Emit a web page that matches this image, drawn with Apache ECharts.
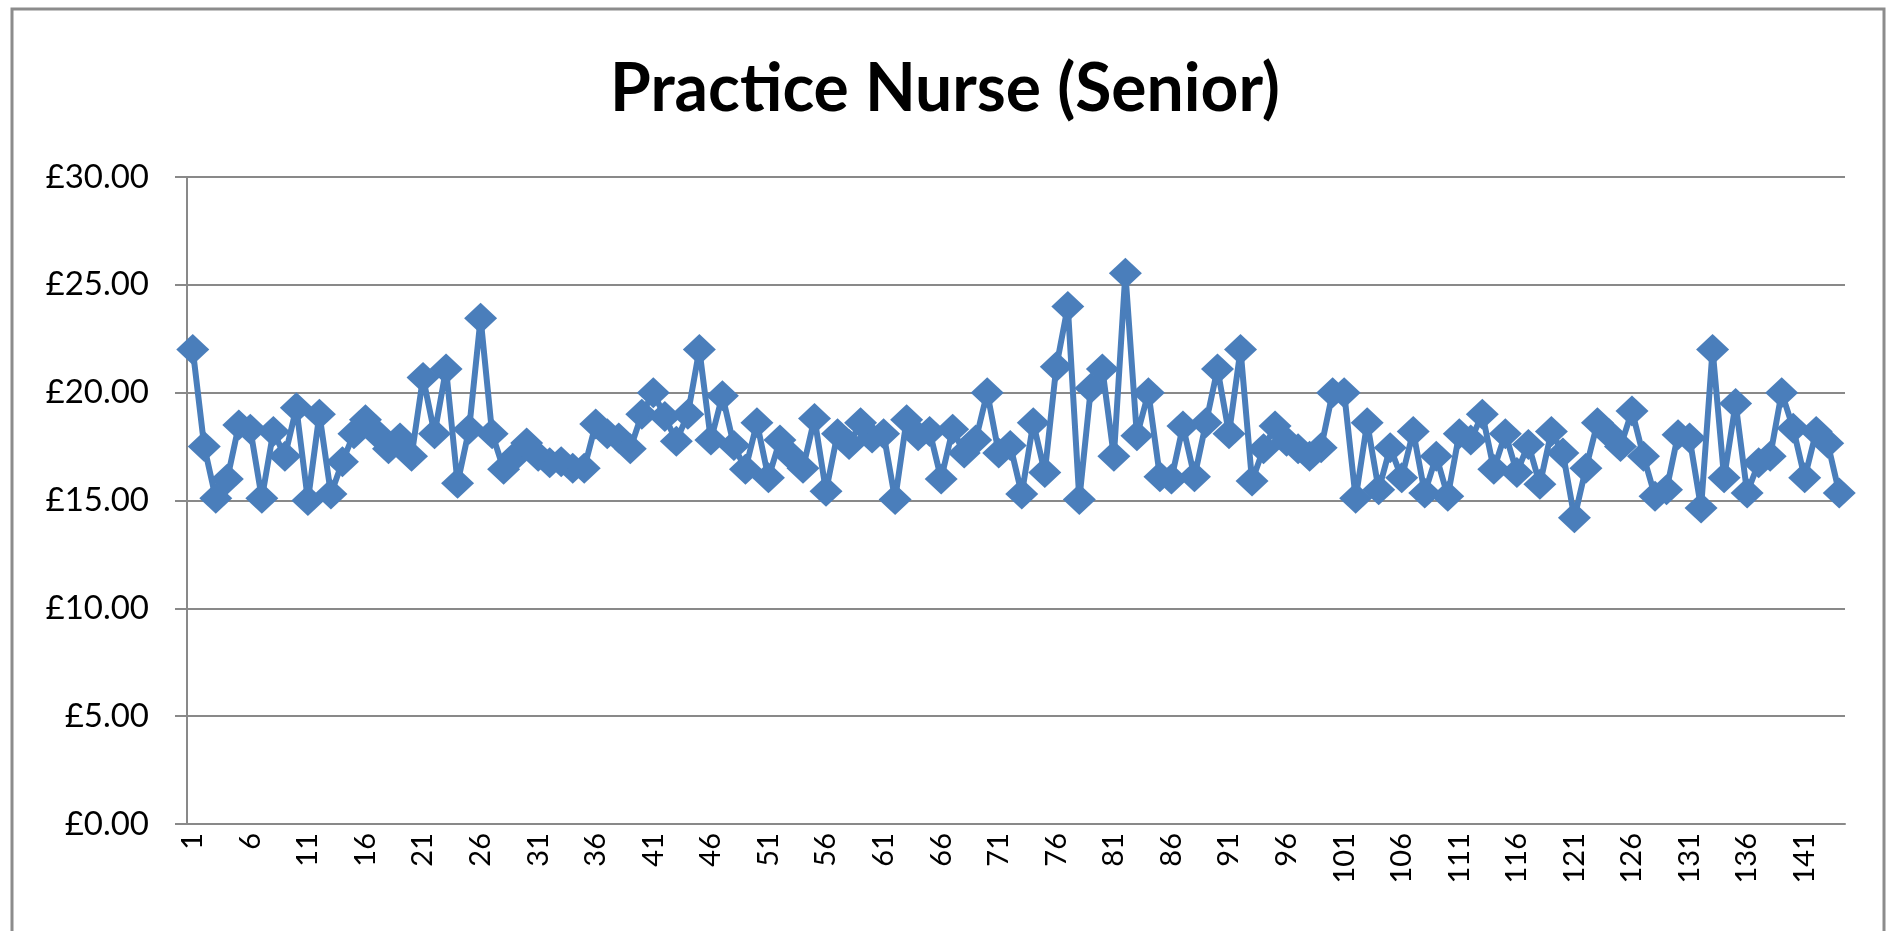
<!DOCTYPE html>
<html lang="en">
<head>
    <meta charset="UTF-8">
    <title>Practice Nurse (Senior)</title>
    <script src="https://cdn.jsdelivr.net/npm/echarts@6/dist/echarts.min.js"></script>
    <style>
        html, body { margin: 0; padding: 0; background: #fff; }
        #chart-container { width: 1890px; height: 931px; }
    </style>
</head>
<body>
    <div id="chart-container"></div>

    <script>
        // hourly rate per practice
        var hourlyRate = [
            22.0, 17.5, 15.1, 16.0, 18.5, 18.3, 15.1, 18.2, 17.05, 19.3, 15.0, 19.0, 15.3, 16.8, 18.1, 18.75, 18.1, 17.4, 17.9, 17.05, 20.7, 18.1, 21.1, 15.8, 18.3,
            23.45, 18.1, 16.45, 17.05, 17.67, 17.05, 16.75, 16.8, 16.5, 16.5, 18.55, 18.1, 17.9, 17.4, 19.0, 20.0, 18.9, 17.75, 19.0, 22.0, 17.8, 19.86, 17.55, 16.45, 18.6,
            16.05, 17.8, 17.05, 16.5, 18.8, 15.43, 18.1, 17.6, 18.6, 17.9, 18.1, 15.05, 18.75, 18.0, 18.2, 16.0, 18.3, 17.2, 17.8, 20.0, 17.2, 17.55, 15.3, 18.6, 16.3,
            21.2, 24.0, 15.05, 20.2, 21.1, 17.05, 25.54, 18.0, 20.0, 16.1, 16.0, 18.45, 16.1, 18.6, 21.1, 18.1, 22.0, 15.9, 17.4, 18.45, 17.75, 17.4, 17.05, 17.45, 20.0,
            20.0, 15.1, 18.6, 15.5, 17.45, 16.05, 18.2, 15.35, 17.05, 15.2, 18.1, 17.8, 19.0, 16.45, 18.1, 16.3, 17.6, 15.75, 18.2, 17.2, 14.2, 16.5, 18.6, 18.1, 17.5,
            19.15, 17.05, 15.2, 15.5, 18.05, 17.9, 14.65, 22.0, 16.05, 19.5, 15.35, 16.75, 17.05, 20.0, 18.35, 16.05, 18.2, 17.65, 15.35
        ];

        // x categories are just the row numbers 1..144
        var categories = [];
        for (var i = 1; i <= hourlyRate.length; i++) {
            categories.push(String(i));
        }

        var yMin = 0;
        var yMax = 30;
        var yStep = 5;

        var axisGrey = '#898989';
        var lineBlue = '#4a7ebb';
        var font = 'Lato, "Open Sans", sans-serif';

        var myChart = echarts.init(document.getElementById('chart-container'));

        var option = {
            animation: false,
            backgroundColor: '#ffffff',
            title: {
                text: 'Practice Nurse (Senior)',
                left: 'center',
                top: 52,
                textStyle: {
                    fontFamily: font,
                    fontWeight: 'bold',
                    fontSize: 66,
                    color: '#000'
                }
            },
            graphic: [{
                // outer chart frame
                type: 'rect',
                silent: true,
                shape: { x: 12, y: 9, width: 1872, height: 1000 },
                style: { fill: null, stroke: '#8c8c8c', lineWidth: 3 }
            }],
            grid: {
                left: 187,
                right: 45,
                top: 177,
                bottom: 107
            },
            xAxis: {
                type: 'category',
                data: categories,
                boundaryGap: true,
                axisLine: { lineStyle: { color: axisGrey, width: 2 } },
                axisTick: {
                    interval: 0,
                    length: 12,
                    lineStyle: { color: axisGrey, width: 2 }
                },
                axisLabel: {
                    interval: 4,
                    rotate: 90,
                    margin: 9,
                    fontFamily: font,
                    fontSize: 29,
                    color: '#000'
                },
                splitLine: { show: false }
            },
            yAxis: {
                type: 'value',
                min: yMin,
                max: yMax,
                interval: yStep,
                axisLine: { show: true, lineStyle: { color: axisGrey, width: 2 } },
                axisTick: {
                    show: true,
                    length: 12,
                    lineStyle: { color: axisGrey, width: 2 }
                },
                axisLabel: {
                    margin: 38,
                    fontFamily: font,
                    fontSize: 33,
                    color: '#000',
                    formatter: function (v) { return '£' + v.toFixed(2); }
                },
                splitLine: { lineStyle: { color: axisGrey, width: 2 } }
            },
            series: [{
                name: 'Practice Nurse (Senior)',
                type: 'line',
                data: hourlyRate,
                symbol: 'diamond',
                symbolSize: [33, 31],
                showAllSymbol: true,
                lineStyle: { color: lineBlue, width: 6 },
                itemStyle: { color: lineBlue, borderWidth: 0 }
            }]
        };

        myChart.setOption(option);
    </script>
</body>
</html>
